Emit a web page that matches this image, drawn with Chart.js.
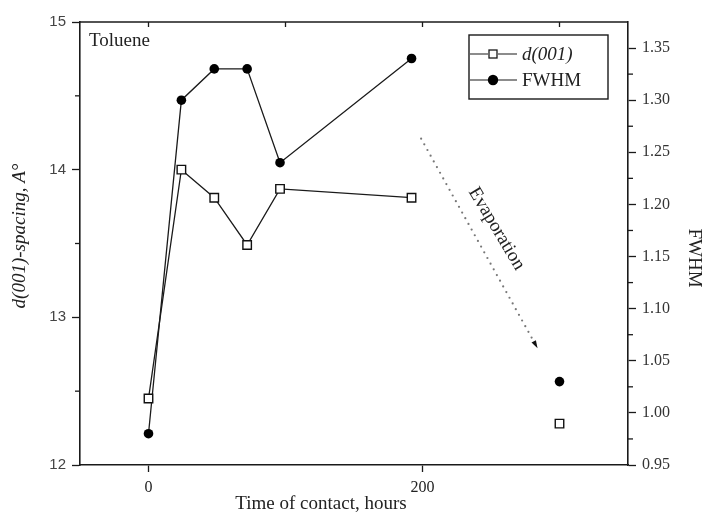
<!DOCTYPE html>
<html>
<head>
<meta charset="utf-8">
<script src="https://cdn.jsdelivr.net/npm/chart.js@4.4.1/dist/chart.umd.min.js"></script>
<style>
  html, body { margin: 0; padding: 0; background: #fff; }
  #wrap { width: 707px; height: 516px; }
</style>
</head>
<body>
<div id="wrap"><canvas id="chart" width="707" height="516"></canvas></div>
<script>
// values
const hours = [0, 24, 48, 72, 96, 192, 300];
const dSpacing = [12.45, 14.0, 13.81, 13.49, 13.87, 13.81, 12.28];
const fwhm = [0.98, 1.30, 1.33, 1.33, 1.24, 1.34, 1.03];

const xTicks = [0, 200];
const xTopTicks = [0, 100, 200, 300];
const leftTicks = [12, 13, 14, 15];
const leftMinor = [12.5, 13.5, 14.5];
const rightTicks = [0.95, 1.00, 1.05, 1.10, 1.15, 1.20, 1.25, 1.30, 1.35];
const rightMinor = [0.975, 1.025, 1.075, 1.125, 1.175, 1.225, 1.275, 1.325];

const seriesNames = ['d(001)', 'FWHM'];

// evaporation arrow (data units, left axis)
const arrowFrom = [199, 14.21];
const arrowTo = [284, 12.79];
const arrowLabelAt = [254, 13.60];

const INK = '#1a1a1a';
const SERIF = 'Liberation Serif';

// the last point (after evaporation) is not joined to the rest
const lastIdx = hours.length - 1;
const skipLast = ctx => ctx.p1DataIndex === lastIdx ? 'rgba(0,0,0,0)' : INK;

const extras = {
    id: 'extras',
    afterDraw(chart) {
        const { ctx, chartArea: a, scales } = chart;
        const x = scales.x, y = scales.y, y1 = scales.y1;
        ctx.save();

        // top frame line and inward ticks
        ctx.strokeStyle = INK;
        ctx.lineWidth = 1.5;
        ctx.beginPath();
        ctx.moveTo(a.left, a.top);
        ctx.lineTo(a.right, a.top);
        ctx.stroke();
        ctx.lineWidth = 1.3;
        xTopTicks.forEach(v => {
            const px = x.getPixelForValue(v);
            ctx.beginPath();
            ctx.moveTo(px, a.top);
            ctx.lineTo(px, a.top + 5);
            ctx.stroke();
        });

        // minor ticks
        leftMinor.forEach(v => {
            const py = y.getPixelForValue(v);
            ctx.beginPath();
            ctx.moveTo(a.left, py);
            ctx.lineTo(a.left - 5, py);
            ctx.stroke();
        });
        rightMinor.forEach(v => {
            const py = y1.getPixelForValue(v);
            ctx.beginPath();
            ctx.moveTo(a.right, py);
            ctx.lineTo(a.right + 5, py);
            ctx.stroke();
        });

        // Toluene label
        ctx.fillStyle = '#222';
        ctx.font = '19px "' + SERIF + '"';
        ctx.textAlign = 'left';
        ctx.textBaseline = 'middle';
        ctx.fillText('Toluene', a.left + 9, a.top + 19);

        // legend
        const lx = a.right - 159, ly = a.top + 13, lw = 139, lh = 64;
        ctx.lineWidth = 1.4;
        ctx.strokeStyle = INK;
        ctx.strokeRect(lx, ly, lw, lh);
        const rows = [ly + 19, ly + 45];
        rows.forEach((ry, i) => {
            ctx.lineWidth = 1.2;
            ctx.beginPath();
            ctx.moveTo(lx + 1, ry); ctx.lineTo(lx + 19, ry);
            ctx.moveTo(lx + 29, ry); ctx.lineTo(lx + 48, ry);
            ctx.stroke();
            if (i === 0) {
                ctx.fillStyle = '#fff';
                ctx.lineWidth = 1.3;
                ctx.fillRect(lx + 20, ry - 4, 8, 8);
                ctx.strokeRect(lx + 20, ry - 4, 8, 8);
            } else {
                ctx.fillStyle = '#000';
                ctx.beginPath();
                ctx.arc(lx + 24, ry, 5.2, 0, Math.PI * 2);
                ctx.fill();
            }
            ctx.fillStyle = '#222';
            ctx.font = (i === 0 ? 'italic ' : '') + '19px "' + SERIF + '"';
            ctx.fillText(seriesNames[i], lx + 53, ry + 1);
        });

        // evaporation arrow (dotted)
        const x0 = x.getPixelForValue(arrowFrom[0]), y0 = y.getPixelForValue(arrowFrom[1]);
        const xe = x.getPixelForValue(arrowTo[0]), ye = y.getPixelForValue(arrowTo[1]);
        const len = Math.hypot(xe - x0, ye - y0);
        const ux = (xe - x0) / len, uy = (ye - y0) / len;
        ctx.fillStyle = '#777';
        for (let d = 0; d < len - 6; d += 6.5) {
            ctx.beginPath();
            ctx.arc(x0 + ux * d, y0 + uy * d, 1.1, 0, Math.PI * 2);
            ctx.fill();
        }
        ctx.fillStyle = '#111';
        ctx.beginPath();
        ctx.moveTo(xe, ye);
        ctx.lineTo(xe - ux * 8 - uy * 2.5, ye - uy * 8 + ux * 2.5);
        ctx.lineTo(xe - ux * 8 + uy * 2.5, ye - uy * 8 - ux * 2.5);
        ctx.closePath();
        ctx.fill();

        ctx.fillStyle = '#222';
        ctx.font = '19px "' + SERIF + '"';
        ctx.textAlign = 'center';
        ctx.save();
        ctx.translate(x.getPixelForValue(arrowLabelAt[0]), y.getPixelForValue(arrowLabelAt[1]));
        ctx.rotate(59 * Math.PI / 180);
        ctx.fillText('Evaporation', 0, 0);
        ctx.restore();

        // axis titles
        ctx.fillText('Time of contact, hours', 321, 504);

        ctx.save();
        ctx.translate(20, 236);
        ctx.rotate(-Math.PI / 2);
        ctx.font = 'italic 19px "' + SERIF + '"';
        ctx.fillText('d(001)-spacing, A\u00B0', 0, 0);
        ctx.restore();

        ctx.save();
        ctx.translate(694, 258);
        ctx.rotate(Math.PI / 2);
        ctx.font = '19px "' + SERIF + '"';
        ctx.fillText('FWHM', 0, 0);
        ctx.restore();

        ctx.restore();
    }
};

const axisGrid = { drawOnChartArea: false, drawTicks: true, tickLength: 8, color: INK, tickWidth: 1.3 };
const axisBorder = { display: true, color: INK, width: 1.6 };

new Chart(document.getElementById('chart').getContext('2d'), {
    type: 'line',
    data: {
        datasets: [{
            label: seriesNames[0],
            yAxisID: 'y',
            data: hours.map((h, i) => ({ x: h, y: dSpacing[i] })),
            borderColor: INK,
            borderWidth: 1.3,
            pointStyle: 'rect',
            pointRadius: 6,
            pointBackgroundColor: '#fff',
            pointBorderColor: '#111',
            pointBorderWidth: 1.4,
            tension: 0,
            segment: { borderColor: skipLast }
        }, {
            label: seriesNames[1],
            yAxisID: 'y1',
            data: hours.map((h, i) => ({ x: h, y: fwhm[i] })),
            borderColor: INK,
            borderWidth: 1.3,
            pointStyle: 'circle',
            pointRadius: 4.8,
            pointBackgroundColor: '#000',
            pointBorderColor: '#000',
            pointBorderWidth: 0,
            tension: 0,
            segment: { borderColor: skipLast }
        }]
    },
    options: {
        responsive: false,
        animation: false,
        devicePixelRatio: 1,
        layout: { padding: { top: 22, left: 0, right: 0, bottom: 0 } },
        plugins: {
            legend: { display: false },
            tooltip: { enabled: false }
        },
        scales: {
            x: {
                type: 'linear',
                position: 'bottom',
                min: -50,
                max: 350,
                afterFit: s => { s.height = 51; },
                afterBuildTicks: s => { s.ticks = xTicks.map(v => ({ value: v })); },
                grid: Object.assign({}, axisGrid, { tickLength: 7 }),
                border: axisBorder,
                ticks: { padding: 6, maxRotation: 0, color: '#222', font: { family: SERIF, size: 16 } }
            },
            y: {
                position: 'left',
                min: 12,
                max: 15,
                afterFit: s => { s.width = 80; },
                afterBuildTicks: s => { s.ticks = leftTicks.map(v => ({ value: v })); },
                grid: axisGrid,
                border: axisBorder,
                ticks: { padding: 6, color: '#444', font: { family: 'Liberation Sans', size: 15 } }
            },
            y1: {
                position: 'right',
                min: 0.95,
                max: 1.375,
                afterFit: s => { s.width = 79; },
                afterBuildTicks: s => { s.ticks = rightTicks.map(v => ({ value: v })); },
                grid: axisGrid,
                border: axisBorder,
                ticks: {
                    padding: 6,
                    color: '#333',
                    font: { family: SERIF, size: 16 },
                    callback: v => Number(v).toFixed(2)
                }
            }
        }
    },
    plugins: [extras]
});
</script>
</body>
</html>
